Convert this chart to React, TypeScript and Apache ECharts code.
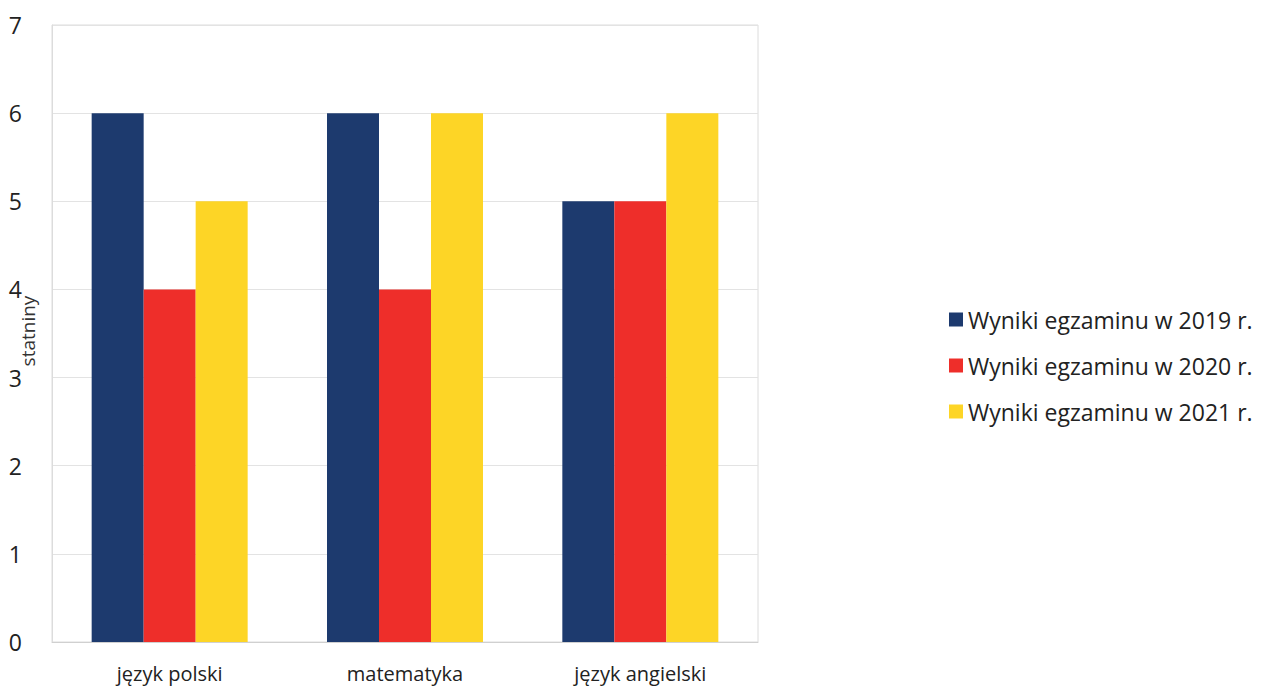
import React, { useEffect, useRef } from "react";
import * as echarts from "echarts";

const categories = ["język polski", "matematyka", "język angielski"];
const seriesNames = ["Wyniki egzaminu w 2019 r.", "Wyniki egzaminu w 2020 r.", "Wyniki egzaminu w 2021 r."];
const values2019 = [6, 6, 5];
const values2020 = [4, 4, 5];
const values2021 = [5, 6, 6];
const colors = ["#1d3a6e", "#ee2e2a", "#fdd526"];
const yAxisName = "statniny";

export default function App() {
  const ref = useRef<HTMLDivElement>(null);
  useEffect(() => {
    if (!ref.current) return;
    const chart = echarts.init(ref.current, null, { renderer: "svg" });
    const font = "'Open Sans', 'Noto Sans', sans-serif";
    const data = [values2019, values2020, values2021];
    chart.setOption({
      animation: false,
      backgroundColor: "#ffffff",
      textStyle: { fontFamily: font },
      grid: {
        left: 52,
        right: 505,
        top: 25,
        bottom: 47,
        outerBoundsMode: "none",
        containLabel: false,
        show: true,
        borderColor: "#dcdcdc",
        borderWidth: 1,
      },
      legend: {
        orient: "vertical",
        left: 944,
        top: 303,
        itemWidth: 14,
        itemHeight: 14,
        itemGap: 23,
        icon: "rect",
        textStyle: { fontSize: 23, color: "#222", fontFamily: font },
        data: seriesNames,
      },
      graphic: [
        {
          type: "text",
          x: 28,
          y: 331,
          rotation: Math.PI / 2,
          style: {
            text: yAxisName,
            fontSize: 19,
            fill: "#333",
            fontFamily: font,
            align: "center",
            verticalAlign: "middle",
          },
        },
      ],
      xAxis: {
        type: "category",
        data: categories,
        axisLine: { show: true, lineStyle: { color: "#d0d0d0" } },
        axisTick: { show: false },
        axisLabel: { fontSize: 20, color: "#222", margin: 21, fontFamily: font },
      },
      yAxis: {
        type: "value",
        min: 0,
        max: 7,
        interval: 1,
        axisLine: { show: true, lineStyle: { color: "#dcdcdc" } },
        axisTick: { show: false },
        axisLabel: { fontSize: 23, color: "#222", margin: 30, fontFamily: font },
        splitLine: { lineStyle: { color: "#e3e3e3" } },
      },
      series: seriesNames.map((name, i) => ({
        name,
        type: "bar",
        data: data[i],
        barWidth: 52,
        barGap: "0%",
        itemStyle: { color: colors[i] },
      })),
    });
    return () => chart.dispose();
  }, []);
  return (
    <div
      ref={ref}
      style={{ position: "fixed", left: 0, top: 0, width: 1263, height: 689 }}
    />
  );
}
